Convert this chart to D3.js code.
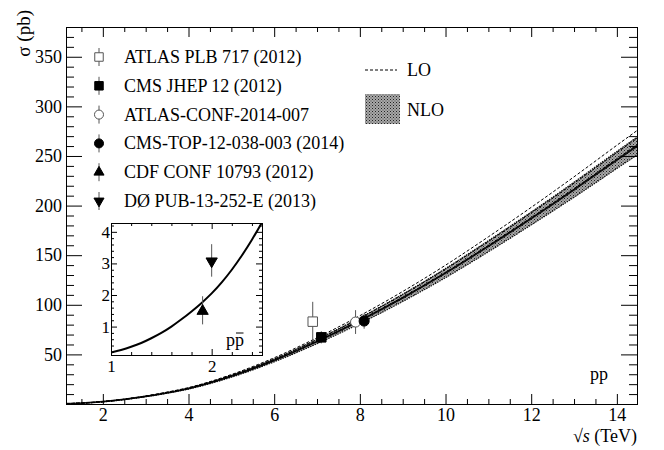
<!DOCTYPE html>
<html>
<head>
<meta charset="utf-8">
<script src="https://cdn.jsdelivr.net/npm/d3@7"></script>
<style>
  html, body { margin: 0; padding: 0; background: #fff; }
  svg { display: block; font-family: "Liberation Serif", "DejaVu Serif", serif; }
  .axis path, .axis line { stroke: #000; stroke-width: 1; }
  .axis text { font-size: 18px; fill: #000; font-family: "Liberation Serif", "DejaVu Serif", serif; }
  .inset .axis text { font-size: 17px; }
</style>
</head>
<body>
<svg id="chart" width="664" height="450"></svg>
<script>
// ── Theory curves, pp (main panel) ──
const sqrtS     = [1.14, 1.5, 2, 2.5, 3, 3.5, 4, 5, 6, 7, 8, 9, 10, 11, 12, 13, 14, 14.47];
const nloCentre = [0.30, 0.90, 2.3, 4.6, 7.6, 11.3, 15.6, 28.0, 44.0, 63.0, 84.0, 107.0, 132.0, 159.0, 187.0, 216.0, 246.0, 260.0];
const nloUp     = [0.31, 0.93, 2.38, 4.76, 7.87, 11.7, 16.15, 29.0, 45.5, 65.2, 86.9, 110.7, 136.6, 164.6, 193.5, 223.6, 254.6, 269.0];
const nloDown   = [0.29, 0.87, 2.22, 4.44, 7.33, 10.9, 15.05, 27.0, 42.5, 60.8, 81.1, 103.3, 127.4, 153.4, 180.5, 208.4, 237.4, 251.0];
const loUp      = [0.32, 0.95, 2.44, 4.88, 8.06, 11.98, 16.54, 29.7, 46.6, 66.8, 89.0, 113.4, 139.9, 168.5, 198.2, 229.0, 260.8, 275.6];
const loMid     = [0.31, 0.93, 2.37, 4.74, 7.83, 11.64, 16.07, 28.8, 45.3, 64.9, 86.5, 110.2, 136.0, 163.8, 192.6, 222.5, 253.4, 267.8];
const loDown    = [0.30, 0.90, 2.31, 4.62, 7.64, 11.36, 15.68, 28.1, 44.2, 63.3, 84.4, 107.5, 132.7, 159.8, 187.9, 217.1, 247.2, 261.3];

// ── Theory curve, p-pbar (inset) ──
const insetS   = [1.0, 1.1, 1.2, 1.3, 1.4, 1.5, 1.6, 1.7, 1.8, 1.9, 2.0, 2.1, 2.2, 2.3, 2.4, 2.5];
const insetNlo = [0.18, 0.26, 0.36, 0.48, 0.63, 0.80, 1.00, 1.23, 1.48, 1.75, 2.05, 2.40, 2.80, 3.25, 3.75, 4.30];

// ── Measurements ──
const pointNames = ['ATLAS PLB 717 (2012)', 'CMS JHEP 12 (2012)', 'ATLAS-CONF-2014-007',
                    'CMS-TOP-12-038-003 (2014)', 'CDF CONF 10793 (2012)', 'D\u00D8 PUB-13-252-E (2013)'];
const pointX     = [6.9, 7.1, 7.9, 8.1, 1.91, 2.0];
const pointY     = [83.0, 67.2, 82.6, 83.6, 1.49, 3.07];
const pointErrUp = [20.0, 6.1, 12.0, 7.7, 0.47, 0.54];
const pointErrDn = [20.0, 6.1, 12.0, 7.7, 0.42, 0.49];
const pointShape = ['openSquare', 'square', 'openCircle', 'circle', 'triangleUp', 'triangleDown'];
const pointPanel = ['main', 'main', 'main', 'main', 'inset', 'inset'];

// ── Ticks ──
const xMajorTicks = [2, 4, 6, 8, 10, 12, 14];
const yMajorTicks = [50, 100, 150, 200, 250, 300, 350];
const insetXTicks = [1, 2];
const insetYTicks = [1, 2, 3, 4];

const svg = d3.select('#chart');

// ── Scales ──
const frame = { left: 66, right: 637, top: 27, bottom: 404 };
const x = d3.scaleLinear().domain([1.14, 14.47]).range([frame.left, frame.right]);
const y = d3.scaleLinear().domain([0, 380]).range([frame.bottom, frame.top]);

const inFrame = { left: 111, right: 262, top: 223, bottom: 355 };
const xi = d3.scaleLinear().domain([1, 2.5]).range([inFrame.left, inFrame.right]);
const yi = d3.scaleLinear().domain([0.1, 4.28]).range([inFrame.bottom, inFrame.top]);

// ── NLO fill pattern ──
const defs = svg.append('defs');
const pat = defs.append('pattern').attr('id', 'nloPat')
  .attr('patternUnits', 'userSpaceOnUse').attr('width', 3).attr('height', 3);
pat.append('rect').attr('width', 3).attr('height', 3).attr('fill', '#a8a8a8');
pat.append('rect').attr('x', 0).attr('y', 0).attr('width', 1).attr('height', 1).attr('fill', '#222');
pat.append('rect').attr('x', 1.5).attr('y', 1.5).attr('width', 1).attr('height', 1).attr('fill', '#444');

defs.append('clipPath').attr('id', 'mainClip').append('rect')
  .attr('x', frame.left).attr('y', frame.top)
  .attr('width', frame.right - frame.left).attr('height', frame.bottom - frame.top);
defs.append('clipPath').attr('id', 'insetClip').append('rect')
  .attr('x', inFrame.left).attr('y', inFrame.top)
  .attr('width', inFrame.right - inFrame.left).attr('height', inFrame.bottom - inFrame.top);

// ── Axes helper: major + minor ticks drawn inward on all four sides ──
function drawFrameAxes(g, xs, ys, xMaj, xMin, yMaj, yMin, f, len, labelPad) {
  g.append('g').attr('class', 'axis').attr('transform', `translate(0,${f.bottom})`)
    .call(d3.axisBottom(xs).tickValues(xMin).tickSize(-len.xMinor).tickFormat(''));
  const bMaj = g.append('g').attr('class', 'axis').attr('transform', `translate(0,${f.bottom})`)
    .call(d3.axisBottom(xs).tickValues(xMaj).tickSize(-len.xMajor).tickPadding(labelPad.x).tickFormat(d3.format('d')));
  bMaj.selectAll('.tick text').attr('dy', '0.71em');

  g.append('g').attr('class', 'axis').attr('transform', `translate(0,${f.top})`)
    .call(d3.axisTop(xs).tickValues(xMin).tickSize(-len.xMinor).tickFormat(''));
  g.append('g').attr('class', 'axis').attr('transform', `translate(0,${f.top})`)
    .call(d3.axisTop(xs).tickValues(xMaj).tickSize(-len.xMajor).tickFormat(''));

  g.append('g').attr('class', 'axis').attr('transform', `translate(${f.left},0)`)
    .call(d3.axisLeft(ys).tickValues(yMin).tickSize(-len.yMinor).tickFormat(''));
  g.append('g').attr('class', 'axis').attr('transform', `translate(${f.left},0)`)
    .call(d3.axisLeft(ys).tickValues(yMaj).tickSize(-len.yMajor).tickPadding(labelPad.y).tickFormat(d3.format('d')));

  g.append('g').attr('class', 'axis').attr('transform', `translate(${f.right},0)`)
    .call(d3.axisRight(ys).tickValues(yMin).tickSize(-len.yMinor).tickFormat(''));
  g.append('g').attr('class', 'axis').attr('transform', `translate(${f.right},0)`)
    .call(d3.axisRight(ys).tickValues(yMaj).tickSize(-len.yMajor).tickFormat(''));
}

// ── Main panel curves ──
const mainG = svg.append('g');
const curves = mainG.append('g').attr('clip-path', 'url(#mainClip)');
const idx = d3.range(sqrtS.length);

const band = d3.area().x(i => x(sqrtS[i])).y0(i => y(nloDown[i])).y1(i => y(nloUp[i])).curve(d3.curveMonotoneX);
curves.append('path').datum(idx).attr('d', band).attr('fill', 'url(#nloPat)').attr('stroke', 'none');

const edge = arr => d3.line().x(i => x(sqrtS[i])).y(i => y(arr[i])).curve(d3.curveMonotoneX);
[nloUp, nloDown].forEach(arr => {
  curves.append('path').datum(idx).attr('d', edge(arr))
    .attr('fill', 'none').attr('stroke', '#111').attr('stroke-width', 1.2).attr('stroke-dasharray', '1.5 1');
});
curves.append('path').datum(idx).attr('d', edge(nloCentre))
  .attr('fill', 'none').attr('stroke', '#000').attr('stroke-width', 1.8).attr('opacity', 0.9);
[loUp, loMid, loDown].forEach(arr => {
  curves.append('path').datum(idx).attr('d', edge(arr))
    .attr('fill', 'none').attr('stroke', '#000').attr('stroke-width', 1).attr('stroke-dasharray', '3 2');
});

drawFrameAxes(mainG, x, y,
  xMajorTicks, d3.range(1.5, 14.5, 0.5).filter(v => v % 2 !== 0),
  yMajorTicks, d3.range(10, 380, 10).filter(v => v % 50 !== 0),
  frame, { xMajor: 10, xMinor: 5, yMajor: 16, yMinor: 8 }, { x: 4, y: 4 });

// axis titles
svg.append('text')
  .attr('transform', `translate(30,${frame.top - 17}) rotate(-90)`)
  .attr('text-anchor', 'end').attr('font-size', 19).text('\u03C3 (pb)');
const xt = svg.append('text').attr('x', frame.right).attr('y', 442)
  .attr('text-anchor', 'end').attr('font-size', 18);
xt.append('tspan').text('\u221A');
xt.append('tspan').attr('font-style', 'italic').text('s');
xt.append('tspan').text(' (TeV)');

svg.append('text').attr('x', 608).attr('y', 380).attr('text-anchor', 'end')
  .attr('font-size', 18).text('pp');

// ── Inset ──
const insetG = svg.append('g').attr('class', 'inset');
insetG.append('rect').attr('x', inFrame.left).attr('y', inFrame.top)
  .attr('width', inFrame.right - inFrame.left).attr('height', inFrame.bottom - inFrame.top)
  .attr('fill', '#fff');
const insetLine = d3.line().x((d, i) => xi(insetS[i])).y(d => yi(d)).curve(d3.curveMonotoneX);
insetG.append('g').attr('clip-path', 'url(#insetClip)')
  .append('path').datum(insetNlo).attr('d', insetLine)
  .attr('fill', 'none').attr('stroke', '#000').attr('stroke-width', 2);

drawFrameAxes(insetG, xi, yi,
  insetXTicks, d3.range(1.2, 2.5, 0.2).filter(v => Math.abs(v - 2) > 0.01),
  insetYTicks, d3.range(0.2, 4.25, 0.2).filter(v => Math.abs(v - Math.round(v)) > 0.01),
  inFrame, { xMajor: 6, xMinor: 3, yMajor: 6, yMinor: 3 }, { x: 5, y: 1 });

// p-pbar label, bar drawn over the second letter
const ppbar = insetG.append('text').attr('x', 226).attr('y', 346).attr('font-size', 18).text('pp');
const second = ppbar.node().getExtentOfChar(1);
insetG.append('line')
  .attr('x1', second.x + 1).attr('x2', second.x + second.width - 0.5)
  .attr('y1', 333).attr('y2', 333)
  .attr('stroke', '#000').attr('stroke-width', 1);

// ── Markers ──
function symbolFor(shape, scale) {
  const k = scale || 1;
  switch (shape) {
    case 'openSquare':
    case 'square':       return d3.symbol(d3.symbolSquare, 90 * k)();
    case 'openCircle':
    case 'circle':       return d3.symbol(d3.symbolCircle, 80 * k)();
    default:             return d3.symbol(d3.symbolTriangle, 55 * k)();
  }
}
function styleMarker(sel, shape) {
  const open = shape.startsWith('open');
  sel.attr('fill', open ? '#fff' : '#000')
     .attr('stroke', open ? '#555' : '#000')
     .attr('stroke-width', 1);
  if (shape === 'triangleDown') sel.attr('transform', sel.attr('transform') + ' rotate(180)');
}

pointNames.forEach((name, i) => {
  const inInset = pointPanel[i] === 'inset';
  const xs = inInset ? xi : x, ys = inInset ? yi : y;
  const g = inInset ? insetG : mainG;
  const cx = xs(pointX[i]);
  g.append('line')
    .attr('x1', cx).attr('x2', cx)
    .attr('y1', ys(pointY[i] + pointErrUp[i])).attr('y2', ys(pointY[i] - pointErrDn[i]))
    .attr('stroke', '#555').attr('stroke-width', 1);
  const m = g.append('path').attr('d', symbolFor(pointShape[i]))
    .attr('transform', `translate(${cx},${ys(pointY[i])})`);
  styleMarker(m, pointShape[i]);
});

// ── Legend: measurements ──
const legRowY = d3.scaleLinear().domain([0, 5]).range([57, 201]);
pointNames.forEach((name, i) => {
  const ly = legRowY(i);
  svg.append('line').attr('x1', 99).attr('x2', 99).attr('y1', ly - 9).attr('y2', ly + 9)
    .attr('stroke', '#555').attr('stroke-width', 1);
  const m = svg.append('path').attr('d', symbolFor(pointShape[i], 0.8))
    .attr('transform', `translate(99,${ly})`);
  styleMarker(m, pointShape[i]);
  svg.append('text').attr('x', 124).attr('y', ly + 6).attr('font-size', 18).text(name);
});

// ── Legend: theory ──
svg.append('line').attr('x1', 365).attr('x2', 397).attr('y1', 70).attr('y2', 70)
  .attr('stroke', '#000').attr('stroke-width', 1).attr('stroke-dasharray', '3 2');
svg.append('text').attr('x', 407).attr('y', 76).attr('font-size', 18).text('LO');
svg.append('rect').attr('x', 365).attr('y', 94).attr('width', 35).attr('height', 30)
  .attr('fill', 'url(#nloPat)');
svg.append('text').attr('x', 407).attr('y', 116).attr('font-size', 18).text('NLO');
</script>
</body>
</html>
